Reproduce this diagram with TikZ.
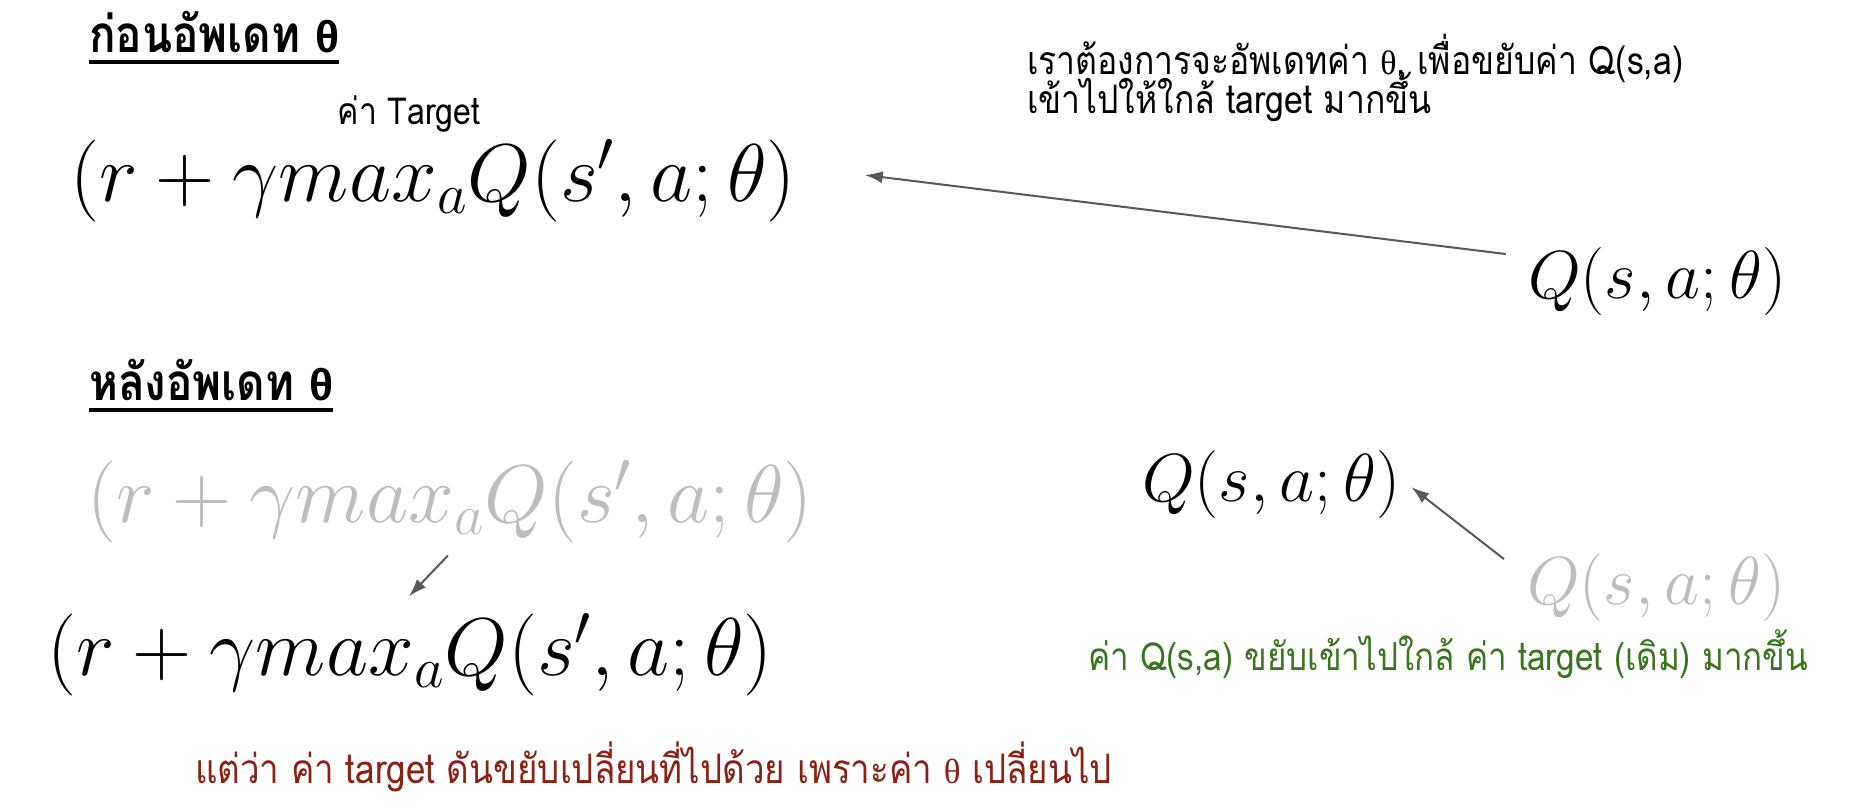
\RequirePackage{fix-cm}
\documentclass[tikz,border=0pt]{standalone}
\usepackage{fontspec}
\newfontfamily\thai[Script=Thai,FakeStretch=0.86]{Loma}
\newfontfamily\grk{Liberation Sans}
\newfontfamily\grks{Liberation Serif}
\usetikzlibrary{arrows.meta}
\definecolor{arrgray}{HTML}{595959}
\definecolor{lightg}{HTML}{BDBDBD}
\definecolor{darkred}{RGB}{140,32,18}
\definecolor{dgreen}{HTML}{38761D}
\newcommand\thul[1]{\setbox0\hbox{#1}\leavevmode\rlap{\rule[-5.5pt]{\wd0}{1.8pt}}\box0}
\tikzset{
  txt/.style={inner sep=0pt, outer sep=0pt},
  head/.style={txt, anchor=base west, font=\thai\bfseries\fontsize{25.6}{30}\selectfont},
  body/.style={txt, anchor=base west, font=\thai\fontsize{19.6}{23}\selectfont},
  fml/.style={txt, anchor=west, font=\fontsize{41}{47}\selectfont},
  qf/.style={txt, anchor=west, font=\fontsize{34}{39}\selectfont},
  arr/.style={draw=arrgray, line width=1pt, -{Latex[length=9pt,width=6pt]}},
}
\begin{document}
\begin{tikzpicture}[x=0.5pt,y=-0.5pt]
\fill[white] (0,0) rectangle (1858,812);
\useasboundingbox (0,0) rectangle (1858,812);
% top half
\node[head] (h1) at (89,53) {\thul{ก่อนอัพเดท {\grk\bfseries\fontsize{22.3}{27}\selectfont θ}}};
\node[body, anchor=center, font=\thai\fontsize{18.6}{22}\selectfont] (tgt) at (409,114) {ค่า Target};
\node[fml] (f1) at (70,181) {$(r+\gamma max_a Q(s',a;\theta)$};
\node[body] (tr1) at (1027,75) {เราต้องการจะอัพเดทค่า {\grks\fontsize{17}{20}\selectfont θ}, เพื่อขยับค่า Q(s,a)};
\node[body] (tr2) at (1027,114) {เข้าไปให้ใกล้ target มากขึ้น};
\node[qf] (qR) at (1528,281.5) {$Q(s,a;\theta)$};
\draw[arr] ([shift={(-22,6.5)}]qR.north west) -- ([shift={(69,-6)}]f1.east);
% bottom half
\node[head] (h2) at (89,401) {\thul{หลังอัพเดท {\grk\bfseries\fontsize{22.3}{27}\selectfont θ}}};
\node[fml, text=lightg] (f2) at (87,502) {$(r+\gamma max_a Q(s',a;\theta)$};
\node[fml] (f3) at (47,655) {$(r+\gamma max_a Q(s',a;\theta)$};
\draw[arr] ([shift={(-2,12.5)}]f2.south) -- ([shift={(-1,-17.5)}]f3.north);
\node[body, text=darkred, font=\thai\fontsize{20.3}{24}\selectfont] (red) at (195,783) {แต่ว่า ค่า target ดันขยับเปลี่ยนที่ไปด้วย เพราะค่า {\grks\fontsize{17.5}{20}\selectfont θ} เปลี่ยนไป};
\node[qf] (qM) at (1142,485) {$Q(s,a;\theta)$};
\node[qf, text=lightg] (qG) at (1527,588) {$Q(s,a;\theta)$};
\draw[arr] ([shift={(-23,5)}]qG.north west) -- ([shift={(11,2)}]qM.east);
\node[body, text=dgreen, font=\thai\fontsize{19.3}{23}\selectfont] (grn) at (1088,670) {ค่า Q(s,a) ขยับเข้าไปใกล้ ค่า target (เดิม) มากขึ้น};
\end{tikzpicture}
\end{document}
